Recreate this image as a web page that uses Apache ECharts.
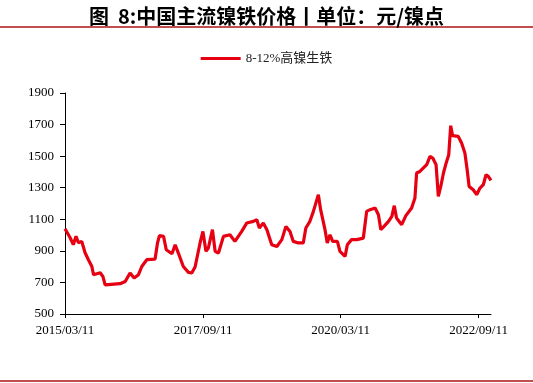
<!DOCTYPE html>
<html>
<head>
<meta charset="utf-8">
<script src="https://cdn.jsdelivr.net/npm/echarts@6/dist/echarts.min.js"></script>
<style>
html,body{margin:0;padding:0;background:#fff;}
#c{width:533px;height:383px;}
</style>
</head>
<body>
<div id="c"></div>
<script>
var titleText = '图  8:中国主流镍铁价格丨单位：元/镍点';
var seriesName = '8-12%高镍生铁';
var xTickLabels = ['2015/03/11', '2017/09/11', '2020/03/11', '2022/09/11'];
var yMin = 500, yMax = 1900, yStep = 200;

var dates = [
'2015/03/11','2015/04/14','2015/05/05','2015/05/23','2015/06/08','2015/06/30','2015/07/22','2015/08/13','2015/09/05','2015/09/16',
'2015/10/30','2015/11/17','2015/12/02','2015/12/13','2016/03/10','2016/04/13','2016/05/15','2016/06/11','2016/07/10','2016/08/01',
'2016/09/03','2016/10/28','2016/11/13','2016/11/26','2016/12/23','2017/01/10','2017/02/17','2017/03/10','2017/03/31','2017/05/03',
'2017/06/06','2017/06/28','2017/07/20','2017/08/22','2017/09/10','2017/09/30','2017/10/16','2017/11/12','2017/11/30','2017/12/22',
'2018/01/24','2018/03/08','2018/04/10','2018/05/25','2018/06/27','2018/08/10','2018/09/02','2018/09/19','2018/10/15','2018/11/08',
'2018/12/10','2019/01/13','2019/02/15','2019/03/14','2019/04/10','2019/05/02','2019/06/04','2019/07/07','2019/07/24','2019/08/20',
'2019/09/12','2019/10/15','2019/10/30','2019/11/28','2019/12/13','2019/12/31','2020/01/18','2020/02/18','2020/03/06','2020/04/09',
'2020/04/24','2020/05/22','2020/06/25','2020/08/08','2020/08/30','2020/09/22','2020/10/25','2020/11/16','2020/12/02','2020/12/23',
'2021/01/22','2021/02/13','2021/03/01','2021/03/16','2021/04/19','2021/05/17','2021/06/24','2021/07/16','2021/07/27','2021/08/18',
'2021/09/10','2021/10/02','2021/10/24','2021/11/11','2021/12/03','2021/12/18','2022/01/03','2022/01/21','2022/02/08','2022/02/25',
'2022/03/10','2022/03/22','2022/04/29','2022/05/21','2022/06/12','2022/06/27','2022/07/10','2022/08/06','2022/08/29','2022/09/20',
'2022/10/12','2022/10/30','2022/11/14','2022/12/02'
];
var prices = [
1040,983,939,992,951,960,888,844,801,749,
761,738,685,696,692,706,760,728,749,801,
844,848,950,996,992,907,882,939,886,801,
764,760,798,950,1023,897,918,1034,897,886,
992,1002,960,1023,1076,1087,1097,1045,1076,1034,
939,928,971,1055,1023,960,950,950,1045,1087,
1150,1256,1161,1034,950,1002,960,960,897,865,
939,971,971,981,1150,1161,1171,1129,1034,1055,
1087,1118,1186,1108,1066,1123,1171,1235,1393,1403,
1425,1446,1498,1488,1446,1245,1308,1393,1457,1509,
1693,1630,1625,1583,1520,1414,1308,1287,1256,1298,
1319,1382,1372,1346
];

function toTs(s){ var p = s.split('/'); return new Date(+p[0], +p[1]-1, +p[2]).getTime(); }
function pad(n){ return (n<10?'0':'')+n; }
function fmt(v){ var d = new Date(v); return d.getFullYear()+'/'+pad(d.getMonth()+1)+'/'+pad(d.getDate()); }

var seriesData = dates.map(function(d,i){ return [toTs(d), prices[i]]; });
var tickVals = xTickLabels.map(toTs);

var chart = echarts.init(document.getElementById('c'), null, {renderer:'canvas'});
chart.setOption({
  backgroundColor:'#fff',
  animation:false,
  title:{
    text:titleText, left:'center', top:1,
    textStyle:{fontFamily:'"Noto Sans CJK SC"', fontWeight:'bold', fontSize:20, color:'#000'}
  },
  graphic:[
    {type:'rect', left:0, top:26, shape:{width:533, height:2}, style:{fill:'#C0504D'}},
    {type:'rect', left:0, top:380, shape:{width:533, height:2}, style:{fill:'#C0504D'}}
  ],
  legend:{
    top:47, left:'center', icon:'rect', itemWidth:40, itemHeight:3, itemGap:5,
    textStyle:{fontFamily:'"Liberation Serif","Noto Sans CJK SC"', fontSize:13, color:'#222'},
    data:[seriesName]
  },
  grid:{left:65, right:42, top:93, bottom:69},
  xAxis:{
    type:'value',
    min:tickVals[0], max:toTs(dates[dates.length-1]),
    splitLine:{show:false},
    axisLine:{lineStyle:{color:'#000', width:1}},
    axisTick:{show:true, length:4, lineStyle:{color:'#000'}, customValues:tickVals},
    axisLabel:{customValues:tickVals, formatter:fmt, margin:10, color:'#000', fontFamily:'"Liberation Serif"', fontSize:13, showMinLabel:true, showMaxLabel:true}
  },
  yAxis:{
    type:'value', min:yMin, max:yMax, interval:yStep,
    splitLine:{show:false},
    axisLine:{show:true, lineStyle:{color:'#000', width:1}},
    axisTick:{show:true, length:5, lineStyle:{color:'#000'}},
    axisLabel:{margin:11, color:'#000', fontFamily:'"Liberation Serif"', fontSize:13, formatter:function(v){return String(v);}}
  },
  series:[{
    name:seriesName, type:'line', data:seriesData, showSymbol:false, symbol:'none',
    lineStyle:{color:'#E60012', width:3.2}, itemStyle:{color:'#E60012'}
  }]
});
</script>
</body>
</html>
